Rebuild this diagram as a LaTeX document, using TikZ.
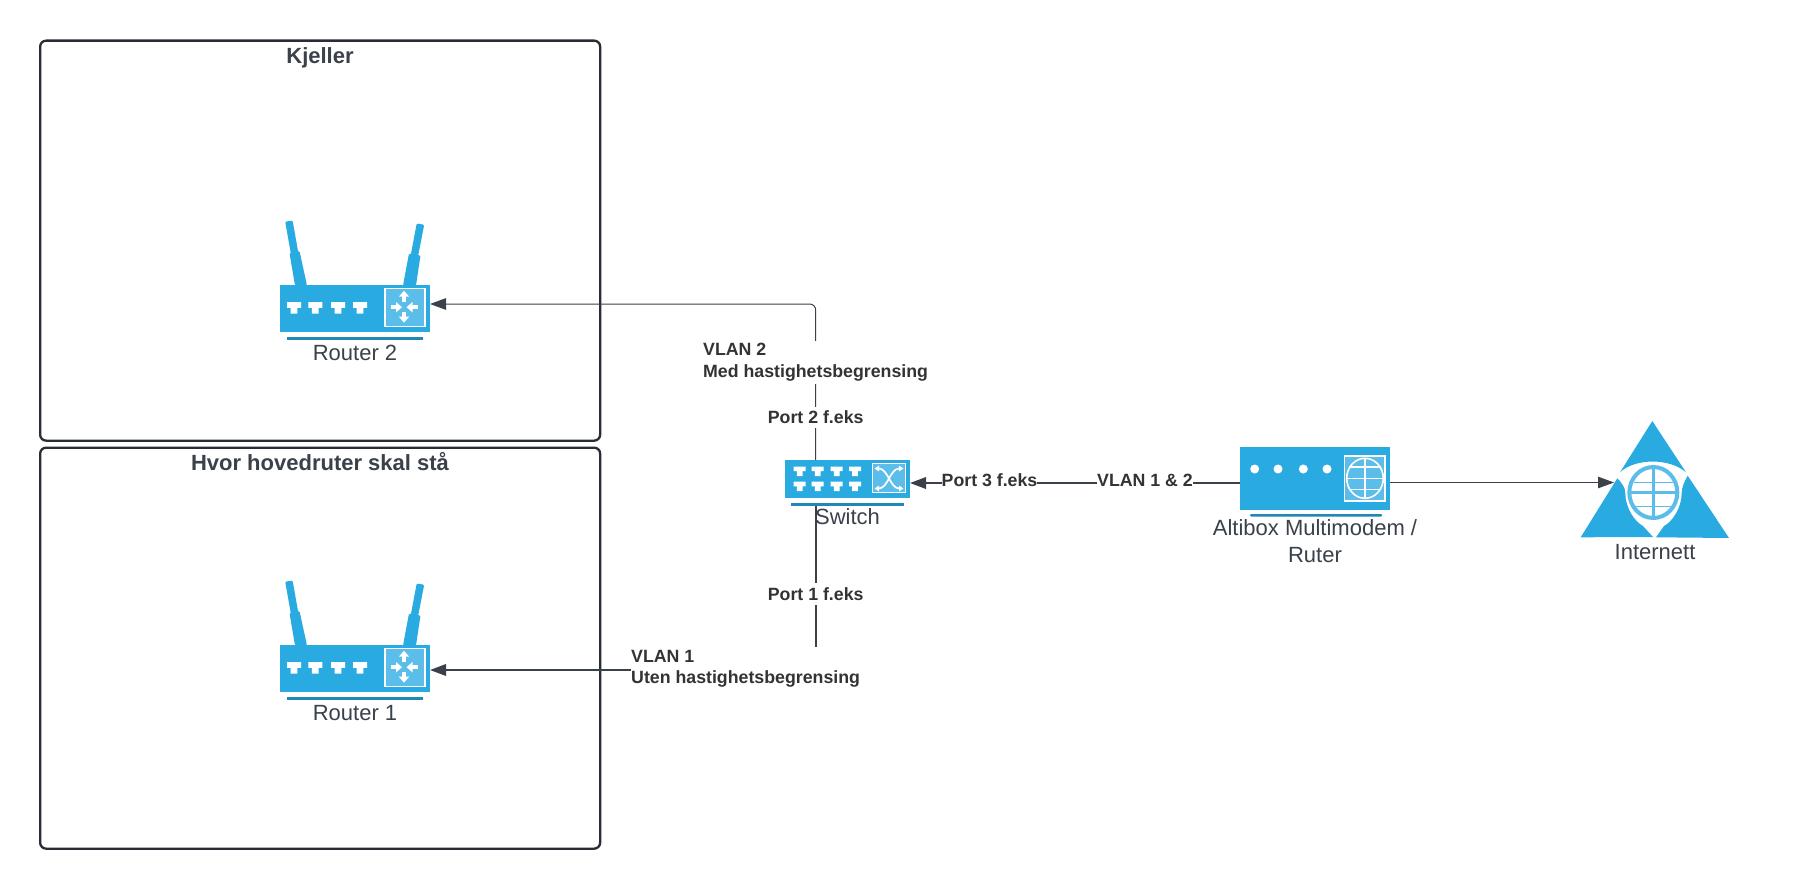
\documentclass[tikz,border=0pt]{standalone}
\usepackage{fontspec}
\setmainfont{Liberation Sans}
\usetikzlibrary{arrows.meta}
\definecolor{devblue}{HTML}{29ABE2}
\definecolor{devlight}{HTML}{5BBDE9}
\definecolor{devdark}{HTML}{1F88B5}
\definecolor{ink}{HTML}{3A414A}
\definecolor{framecol}{HTML}{282C33}
\definecolor{labelcol}{HTML}{333333}
\tikzset{
  frame/.style={draw=framecol,line width=2.3pt,rounded corners=6pt,fill=none},
  devbody/.style={fill=devblue,draw=none,inner sep=0pt,outer sep=0pt,anchor=north west},
  devline/.style={fill=devdark,draw=none},
  thinconn/.style={draw=ink,line width=1pt,rounded corners=6pt,-{Triangle[length=16pt,width=11.5pt]}},
  thickconn/.style={draw=ink,line width=2pt,-{Triangle[length=16pt,width=11.5pt]}},
  devlabel/.style={text=ink,inner sep=0pt,align=center,font=\fontsize{22pt}{26.5pt}\selectfont},
  title/.style={text=ink,inner sep=0pt,font=\bfseries\fontsize{22pt}{26pt}\selectfont},
  edgelabel/.style={text=labelcol,fill=white,inner sep=0pt,align=left,font=\bfseries\fontsize{17.75pt}{21.5pt}\selectfont},
  iconsq/.style={fill=devlight,draw=white,line width=1.3pt},
  blockarrow/.style={draw=white,line width=3.6pt,-{Triangle[length=6pt,width=10pt]}},
  thinarrow/.style={draw=white,line width=1.7pt,{Triangle[length=4.5pt,width=5.5pt]}-{Triangle[length=4.5pt,width=5.5pt]}}
}
% RJ45 style port glyph, centred on x = #1, top at y = #2
\newcommand{\portglyph}[2]{%
  \fill[white,shift={(#1,#2)}] (-7,0) -- (7,0) -- (7,5.7) -- (3.4,5.7) -- (3.4,11.5) -- (-3.4,11.5) -- (-3.4,5.7) -- (-7,5.7) -- cycle;}
\newcommand{\smallport}[2]{%
  \fill[white,shift={(#1,#2)}] (-6,0) -- (6,0) -- (6,4.6) -- (2.9,4.6) -- (2.9,9.5) -- (-2.9,9.5) -- (-2.9,4.6) -- (-6,4.6) -- cycle;}
% router decoration, origin at body top left
\newcommand{\routerdeco}[2]{%
  \begin{scope}[shift={(#1,#2)}]
    \fill[devblue,rounded corners=1.2pt] (5.2,-62.8) -- (12.6,-64) -- (18.8,-29) -- (11.2,-29) -- cycle;
    \fill[devblue,rounded corners=1.2pt] (9.5,-31.5) -- (19.5,-33.5) -- (27,1) -- (15,1) -- cycle;
    \fill[devblue,rounded corners=1.2pt] (136.7,-61) -- (144.2,-59.8) -- (138,-28) -- (130.5,-28) -- cycle;
    \fill[devblue,rounded corners=1.2pt] (129,-31) -- (140.5,-29) -- (136,1) -- (123,1) -- cycle;
    \fill[devdark] (7,52) rectangle (143,55);
    \portglyph{14}{17.7}\portglyph{35.3}{17.7}\portglyph{58}{17.7}\portglyph{80}{17.7}
    \draw[iconsq] (105,4.3) rectangle (145,41.7);
    \draw[blockarrow] (124,17.7) -- (124,6.2);
    \draw[blockarrow] (124,27) -- (124,38.2);
    \draw[blockarrow] (110.5,22.7) -- (122,22.7);
    \draw[blockarrow] (138.2,22.7) -- (126.5,22.7);
  \end{scope}}
\begin{document}
\begin{tikzpicture}[x=1pt,y=-1pt]
\useasboundingbox (0,0) rectangle (1800,888);
\fill[white] (0,0) rectangle (1800,888);

% room frames
\node[frame,minimum width=560pt,minimum height=400pt,anchor=north west,inner sep=0pt] (kjeller) at (39,39.5) {};
\node[frame,minimum width=560pt,minimum height=401pt,anchor=north west,inner sep=0pt] (hoved) at (39,446.5) {};

% device bodies
\node[devbody,minimum width=150pt,minimum height=47pt] (r2) at (280,284.5) {};
\node[devbody,minimum width=150pt,minimum height=47pt] (r1) at (280,644.5) {};
\node[devbody,minimum width=125pt,minimum height=38pt] (sw) at (785,460) {};
\node[devbody,minimum width=150pt,minimum height=63pt] (mdm) at (1240,447) {};
\coordinate (net) at (1653.3,481);

% connector ends
\coordinate (r2port) at ([yshift=4pt]r2.east);
\coordinate (r1port) at ([yshift=-2pt]r1.east);
\coordinate (swtop) at (815.7,460);
\coordinate (swbot) at (815.7,505);
\coordinate (swin) at (910,483);
\coordinate (mdmw) at (1240,483);
\coordinate (mdme) at (1390,482.5);
\coordinate (netin) at (1614,482.5);

% connectors
\draw[thinconn] (swtop) |- (r2port);
\draw[thickconn] (swbot) |- (r1port);
\draw[thickconn] (mdmw) -- (swin);
\draw[thinconn] (mdme) -- (netin);

% icons
\routerdeco{280}{284.5}
\routerdeco{280}{644.5}

% switch
\fill[devdark] (791,502.5) rectangle (904,505.5);
\foreach \px in {799.7,817.7,836.7,855}{\smallport{\px}{466.5}\smallport{\px}{481.7}}
\draw[iconsq] (872.3,463.3) rectangle (905.7,492.7);
\draw[thinarrow] (874.5,468.5) .. controls (888,468.5) and (890,488.5) .. (903.5,488.5);
\draw[thinarrow] (903.5,468.5) .. controls (890,468.5) and (888,488.5) .. (874.5,488.5);

% modem
\fill[devdark,rounded corners=1pt] (1250,514) rectangle (1382,516.5);
\foreach \px in {1254.7,1278,1303.3,1327}{\fill[white] (\px,469) circle (4.5);}
\draw[iconsq,line width=1.6pt] (1344.3,456) rectangle (1385,500.7);
\draw[white,line width=1.6pt] (1365,478.3) ellipse (18.3 and 20);
\draw[white,line width=1.6pt] (1365,458.3) -- (1365,498.3);
\draw[white,line width=1.6pt] (1346.7,478.3) -- (1383.3,478.3);
\draw[white,line width=1.2pt] (1349,467) -- (1381,467);
\draw[white,line width=1.2pt] (1349,489.5) -- (1381,489.5);

% internet
\fill[devblue] (1652.3,421) -- (1686,472.3) .. controls (1670,458) and (1635,458) .. (1620,472.3) -- cycle;
\fill[devblue] (1617.3,478.3) .. controls (1622,483) and (1625.3,488) .. (1625.3,493) .. controls (1625.3,508) and (1635,522) .. (1643,526) -- (1653,537) -- (1580.7,537.3) -- cycle;
\fill[devblue] (1687.7,475.7) .. controls (1684,482) and (1681.7,488) .. (1681.7,493) .. controls (1681.7,508) and (1672,522) .. (1664,526) -- (1656,537.3) -- (1729,538) -- cycle;
\draw[devlight,line width=4pt] (1653.3,492.5) ellipse (24 and 25.5);
\draw[devlight,line width=3.5pt] (1653.3,467) -- (1653.3,518);
\draw[devlight,line width=3pt] (1629.3,492.5) -- (1677.3,492.5);
\draw[devlight,line width=1pt] (1634,482.5) -- (1672.6,482.5);
\draw[devlight,line width=1pt] (1634,506.7) -- (1672.6,506.7);

% device labels
\node[devlabel] (r2text) at (355,352.8) {Router 2};
\node[devlabel] (r1text) at (355,712.8) {Router 1};
\node[devlabel] (swtext) at (847.5,517) {Switch};
\node[devlabel,anchor=north] (mdmtext) at (1315,519.5) {Altibox Multimodem /\\Ruter};
\node[devlabel] (nettext) at (1655,552) {Internett};

% titles
\node[title] (kjellertext) at (320,57.5) {Kjeller};
\node[title] (hovedtext) at (320,462) {Hvor hovedruter skal stå};

% connector labels
\node[edgelabel,anchor=west,minimum height=43pt] (vlan2) at (703,362) {VLAN 2\\Med hastighetsbegrensing};
\node[edgelabel,minimum height=21pt] (port2) at (815.7,417.5) {Port 2 f.eks};
\node[edgelabel,minimum height=22pt] (port1) at (815.7,594) {Port 1 f.eks};
\node[edgelabel,anchor=west,minimum height=45pt] (vlan1) at (631,669) {VLAN 1\\Uten hastighetsbegrensing};
\node[edgelabel] (port3) at (989.5,480) {Port 3 f.eks};
\node[edgelabel] (vlan12) at (1145,480) {VLAN 1 \& 2};
\end{tikzpicture}
\end{document}
